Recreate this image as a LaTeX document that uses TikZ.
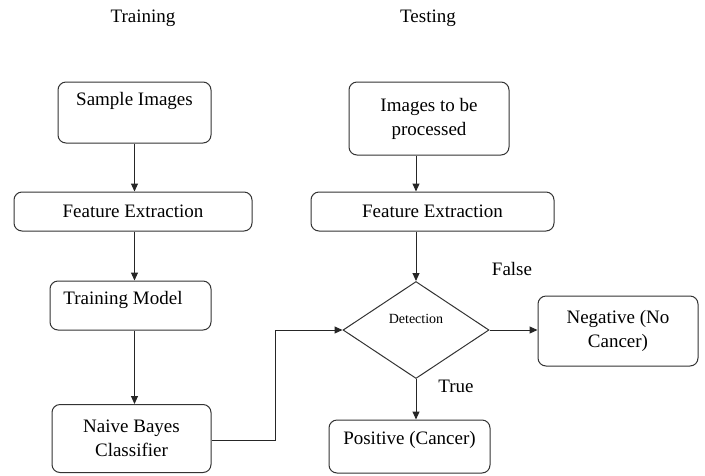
\documentclass[tikz,border=0pt]{standalone}
\usepackage{fontspec}
\setmainfont{Liberation Serif}
\newfontfamily\diagfont{Liberation Serif}
\usetikzlibrary{arrows.meta,shapes.geometric,calc}
\begin{document}
\begin{tikzpicture}[x=1pt,y=-1pt,
  font=\diagfont\fontsize{19}{24}\selectfont,
  box/.style={draw=black!80,line width=1pt,rounded corners=8pt,inner sep=0pt,align=center},
  dia/.style={draw=black!80,line width=1pt,diamond,inner sep=0pt},
  arr/.style={draw=black!85,line width=1pt,-{Triangle[length=8pt,width=7pt]}},
  lbl/.style={inner sep=0pt}]
\useasboundingbox (0,0) rectangle (705,475);
% titles
\node[lbl] (ttrain) at (143,18) {Training};
\node[lbl] (ttest) at (428,18) {Testing};
% training column
\node[box,minimum width=153pt,minimum height=61pt] (si) at (134.5,112.5) {};
\node[lbl] (sitxt) at (134.5,101) {Sample Images};
\node[box,minimum width=238pt,minimum height=39pt] (fe1) at (133,211.5) {Feature Extraction};
\node[box,minimum width=161pt,minimum height=49pt] (tm) at (130.5,305.5) {};
\node[lbl] (tmtxt) at (123,300) {Training Model};
\node[box,minimum width=159pt,minimum height=68pt] (nb) at (131.5,438.5) {Naive Bayes\\Classifier};
% testing column
\node[box,minimum width=160pt,minimum height=73pt] (ip) at (429,118.5) {Images to be\\processed};
\node[box,minimum width=243pt,minimum height=39pt] (fe2) at (432.5,211.5) {Feature Extraction};
\node[dia,minimum width=146pt,minimum height=97pt] (det) at (416,330) {};
\node[lbl,font=\diagfont\fontsize{14}{16}\selectfont] (dettxt) at (416,319) {Detection};
\node[box,minimum width=160pt,minimum height=70pt] (neg) at (618,331) {Negative (No\\Cancer)};
\node[box,minimum width=161pt,minimum height=53pt] (pos) at (409.5,446.5) {};
\node[lbl] (postxt) at (409.5,440) {Positive (Cancer)};
\node[lbl] (false) at (512,269) {False};
\node[lbl] (true) at (456,386) {True};
% connectors
\draw[arr] (si.south) -- (si.south |- fe1.north);
\draw[arr] (fe1.south -| si.south) -- (si.south |- tm.north);
\draw[arr] (tm.south -| si.south) -- (si.south |- nb.north);
\draw[arr] (ip.south -| det.north) -- (det.north |- fe2.north);
\draw[arr] (fe2.south -| det.north) -- (det.north);
\draw[arr] (det.east) -- (det.east -| neg.west);
\draw[arr] (det.south) -- (det.south |- pos.north);
\draw[arr] ($(nb.east)+(0,1.5)$) -- ++(64,0) |- (det.west);
\end{tikzpicture}
\end{document}
